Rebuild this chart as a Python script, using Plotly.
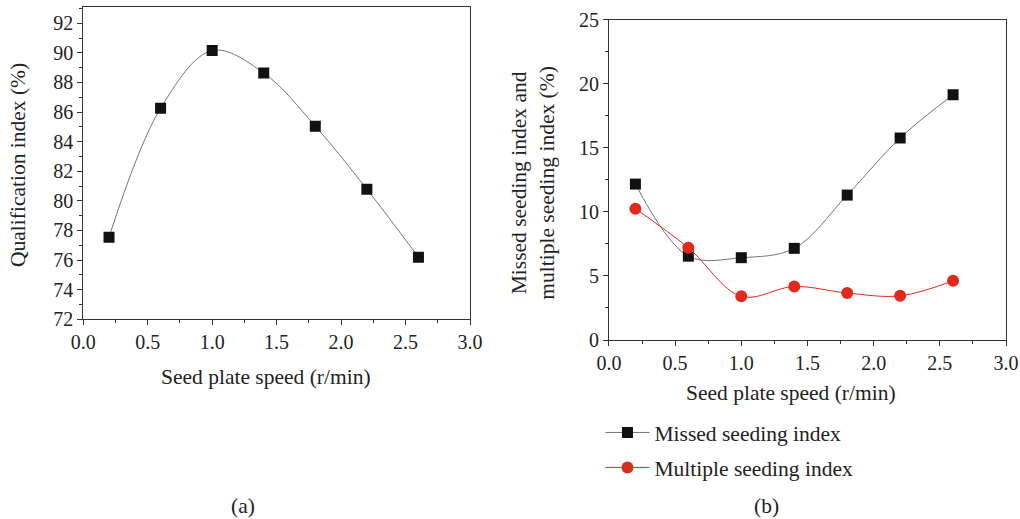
import plotly.graph_objects as go

speed = [0.2, 0.6, 1.0, 1.4, 1.8, 2.2, 2.6]
qualification = [77.55, 86.26, 90.16, 88.64, 85.05, 80.79, 76.2]
missed = [12.18, 6.55, 6.43, 7.16, 11.32, 15.78, 19.16]
multiple = [10.26, 7.2, 3.41, 4.18, 3.67, 3.45, 4.62]
x_ticks = [0.0, 0.5, 1.0, 1.5, 2.0, 2.5, 3.0]
x_tick_text = ["0.0", "0.5", "1.0", "1.5", "2.0", "2.5", "3.0"]

FONT = "Liberation Serif"
TXT = "#222222"
GRAY = "#757575"
RED = "#e02a1e"
TICK_SIZE = 20
TITLE_SIZE = 21.5

fig = go.Figure()
fig.add_trace(go.Scatter(
    x=speed, y=qualification, mode="lines+markers", showlegend=False,
    line=dict(color=GRAY, width=1, shape="spline", smoothing=1.0),
    marker=dict(symbol="square", size=11, color="#111111"),
    xaxis="x", yaxis="y"))
fig.add_trace(go.Scatter(
    x=speed, y=missed, mode="lines+markers", name="Missed seeding index",
    legendgroup="a",
    line=dict(color=GRAY, width=1, shape="spline", smoothing=1.0),
    marker=dict(symbol="square", size=11, color="#111111"),
    xaxis="x2", yaxis="y2"))
fig.add_trace(go.Scatter(
    x=speed, y=multiple, mode="lines+markers", name="Multiple seeding index",
    legendgroup="b",
    line=dict(color=RED, width=1, shape="spline", smoothing=1.0),
    marker=dict(symbol="circle", size=12, color=RED),
    xaxis="x2", yaxis="y2"))

axis_common = dict(
    showgrid=False, zeroline=False, showline=True, linecolor="#333333",
    linewidth=1, mirror=True, ticks="outside", ticklen=5, tickcolor="#333333",
    automargin=False, ticklabeloverflow="allow",
    tickfont=dict(family=FONT, size=TICK_SIZE, color=TXT),
)
minor_x = dict(dtick=0.25, tick0=0, ticks="outside", ticklen=3, tickcolor="#333333")


def label(text, x, y, angle=0):
    return dict(text=text, x=x, y=y, xref="paper", yref="paper", showarrow=False,
                textangle=angle, xanchor="center", yanchor="middle",
                font=dict(family=FONT, size=TITLE_SIZE, color=TXT))


fig.update_layout(
    width=1020, height=519,
    margin=dict(l=0, r=0, t=0, b=0),
    paper_bgcolor="white", plot_bgcolor="white",
    font=dict(family=FONT, color=TXT, size=18),
    xaxis=dict(axis_common, domain=[0.0816, 0.4608], range=[0, 3],
               tickvals=x_ticks, ticktext=x_tick_text, anchor="y",
               minor=minor_x),
    yaxis=dict(axis_common, domain=[0.3848, 0.9865], range=[72, 93.1],
               tick0=72, dtick=2, anchor="x",
               minor=dict(dtick=1, tick0=72, ticks="outside", ticklen=3, tickcolor="#333333")),
    xaxis2=dict(axis_common, domain=[0.597, 0.9863], range=[0, 3],
                tickvals=x_ticks, ticktext=x_tick_text, anchor="y2",
                minor=minor_x),
    yaxis2=dict(axis_common, domain=[0.3449, 0.9615], range=[0, 25],
                tick0=0, dtick=5, anchor="x2",
                minor=dict(dtick=2.5, tick0=0, ticks="outside", ticklen=3, tickcolor="#333333")),
    legend=dict(x=0.5887, y=0.2062, xanchor="left", yanchor="top",
                font=dict(family=FONT, size=TITLE_SIZE, color=TXT),
                bgcolor="rgba(0,0,0,0)", tracegroupgap=4, itemwidth=44),
    annotations=[
        label("Qualification index (%)", 0.0176, 0.682, -90),
        label("Missed seeding index and<br>multiple seeding index (%)", 0.523, 0.647, -90),
        label("Seed plate speed (r/min)", 0.2608, 0.2736),
        label("Seed plate speed (r/min)", 0.7755, 0.2428),
        label("(a)", 0.2382, 0.025),
        label("(b)", 0.751, 0.025),
    ],
)

fig.write_html("out.html", config={"displayModeBar": False},
               post_script="document.body.style.margin='0';document.body.style.overflow='hidden';")
